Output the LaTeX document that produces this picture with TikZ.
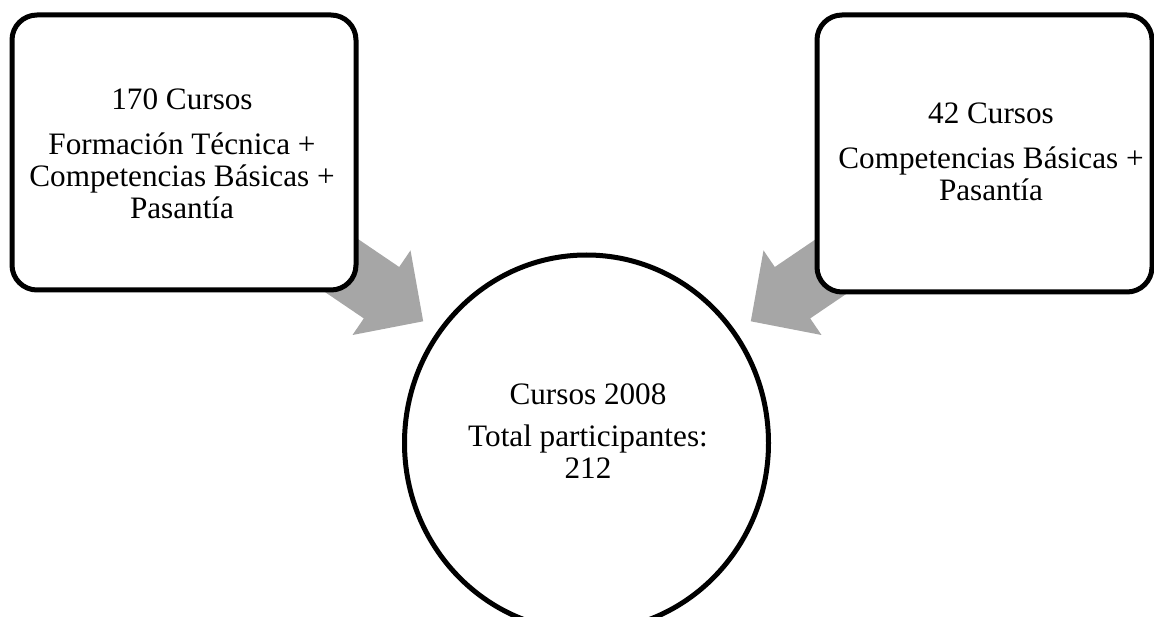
\documentclass[tikz,border=0pt]{standalone}
\usepackage{fontspec}
\setmainfont{Liberation Serif}
\usetikzlibrary{shapes.geometric}
\begin{document}
\begin{tikzpicture}[x=1pt,y=-1pt,
  box/.style={draw=black,line width=5pt,fill=white,rounded corners=25pt,inner sep=0pt},
  circ/.style={draw=black,line width=5pt,fill=white,ellipse,inner sep=0pt,minimum width=364pt,minimum height=376pt},
  txt/.style={align=center,inner sep=0pt,font=\fontsize{31.2}{32}\selectfont},
  arrowfill/.style={fill=black!35,draw=none}]
\useasboundingbox (0,0) rectangle (1154,617);
% arrows (behind)
\fill[arrowfill] (340.7,227.3) -- (399.2,267.0) -- (410.5,250.4) -- (423.2,321.3) -- (352.5,335.0) -- (363.8,318.4) -- (305.3,278.7) -- cycle;
\fill[arrowfill] (833.3,227.3) -- (774.8,267.0) -- (763.5,250.4) -- (750.8,321.3) -- (821.5,335.0) -- (810.2,318.4) -- (868.7,278.7) -- cycle;
% boxes
\node[box,minimum width=344pt,minimum height=275pt] (L) at (184,152.5) {};
\node[box,minimum width=335pt,minimum height=277pt] (R) at (984.5,153.5) {};
\node[circ] (C) at (586.5,443) {};
% texts
\node[txt] (Lt) at (182,154) {170 Cursos\\[13pt]Formación Técnica +\\Competencias Básicas +\\Pasantía};
\node[txt] (Rt) at (991,152) {42 Cursos\\[13pt]Competencias Básicas +\\Pasantía};
\node[txt] (Ct) at (588,431.5) {Cursos 2008\\[10pt]Total participantes:\\212};
\end{tikzpicture}
\end{document}
